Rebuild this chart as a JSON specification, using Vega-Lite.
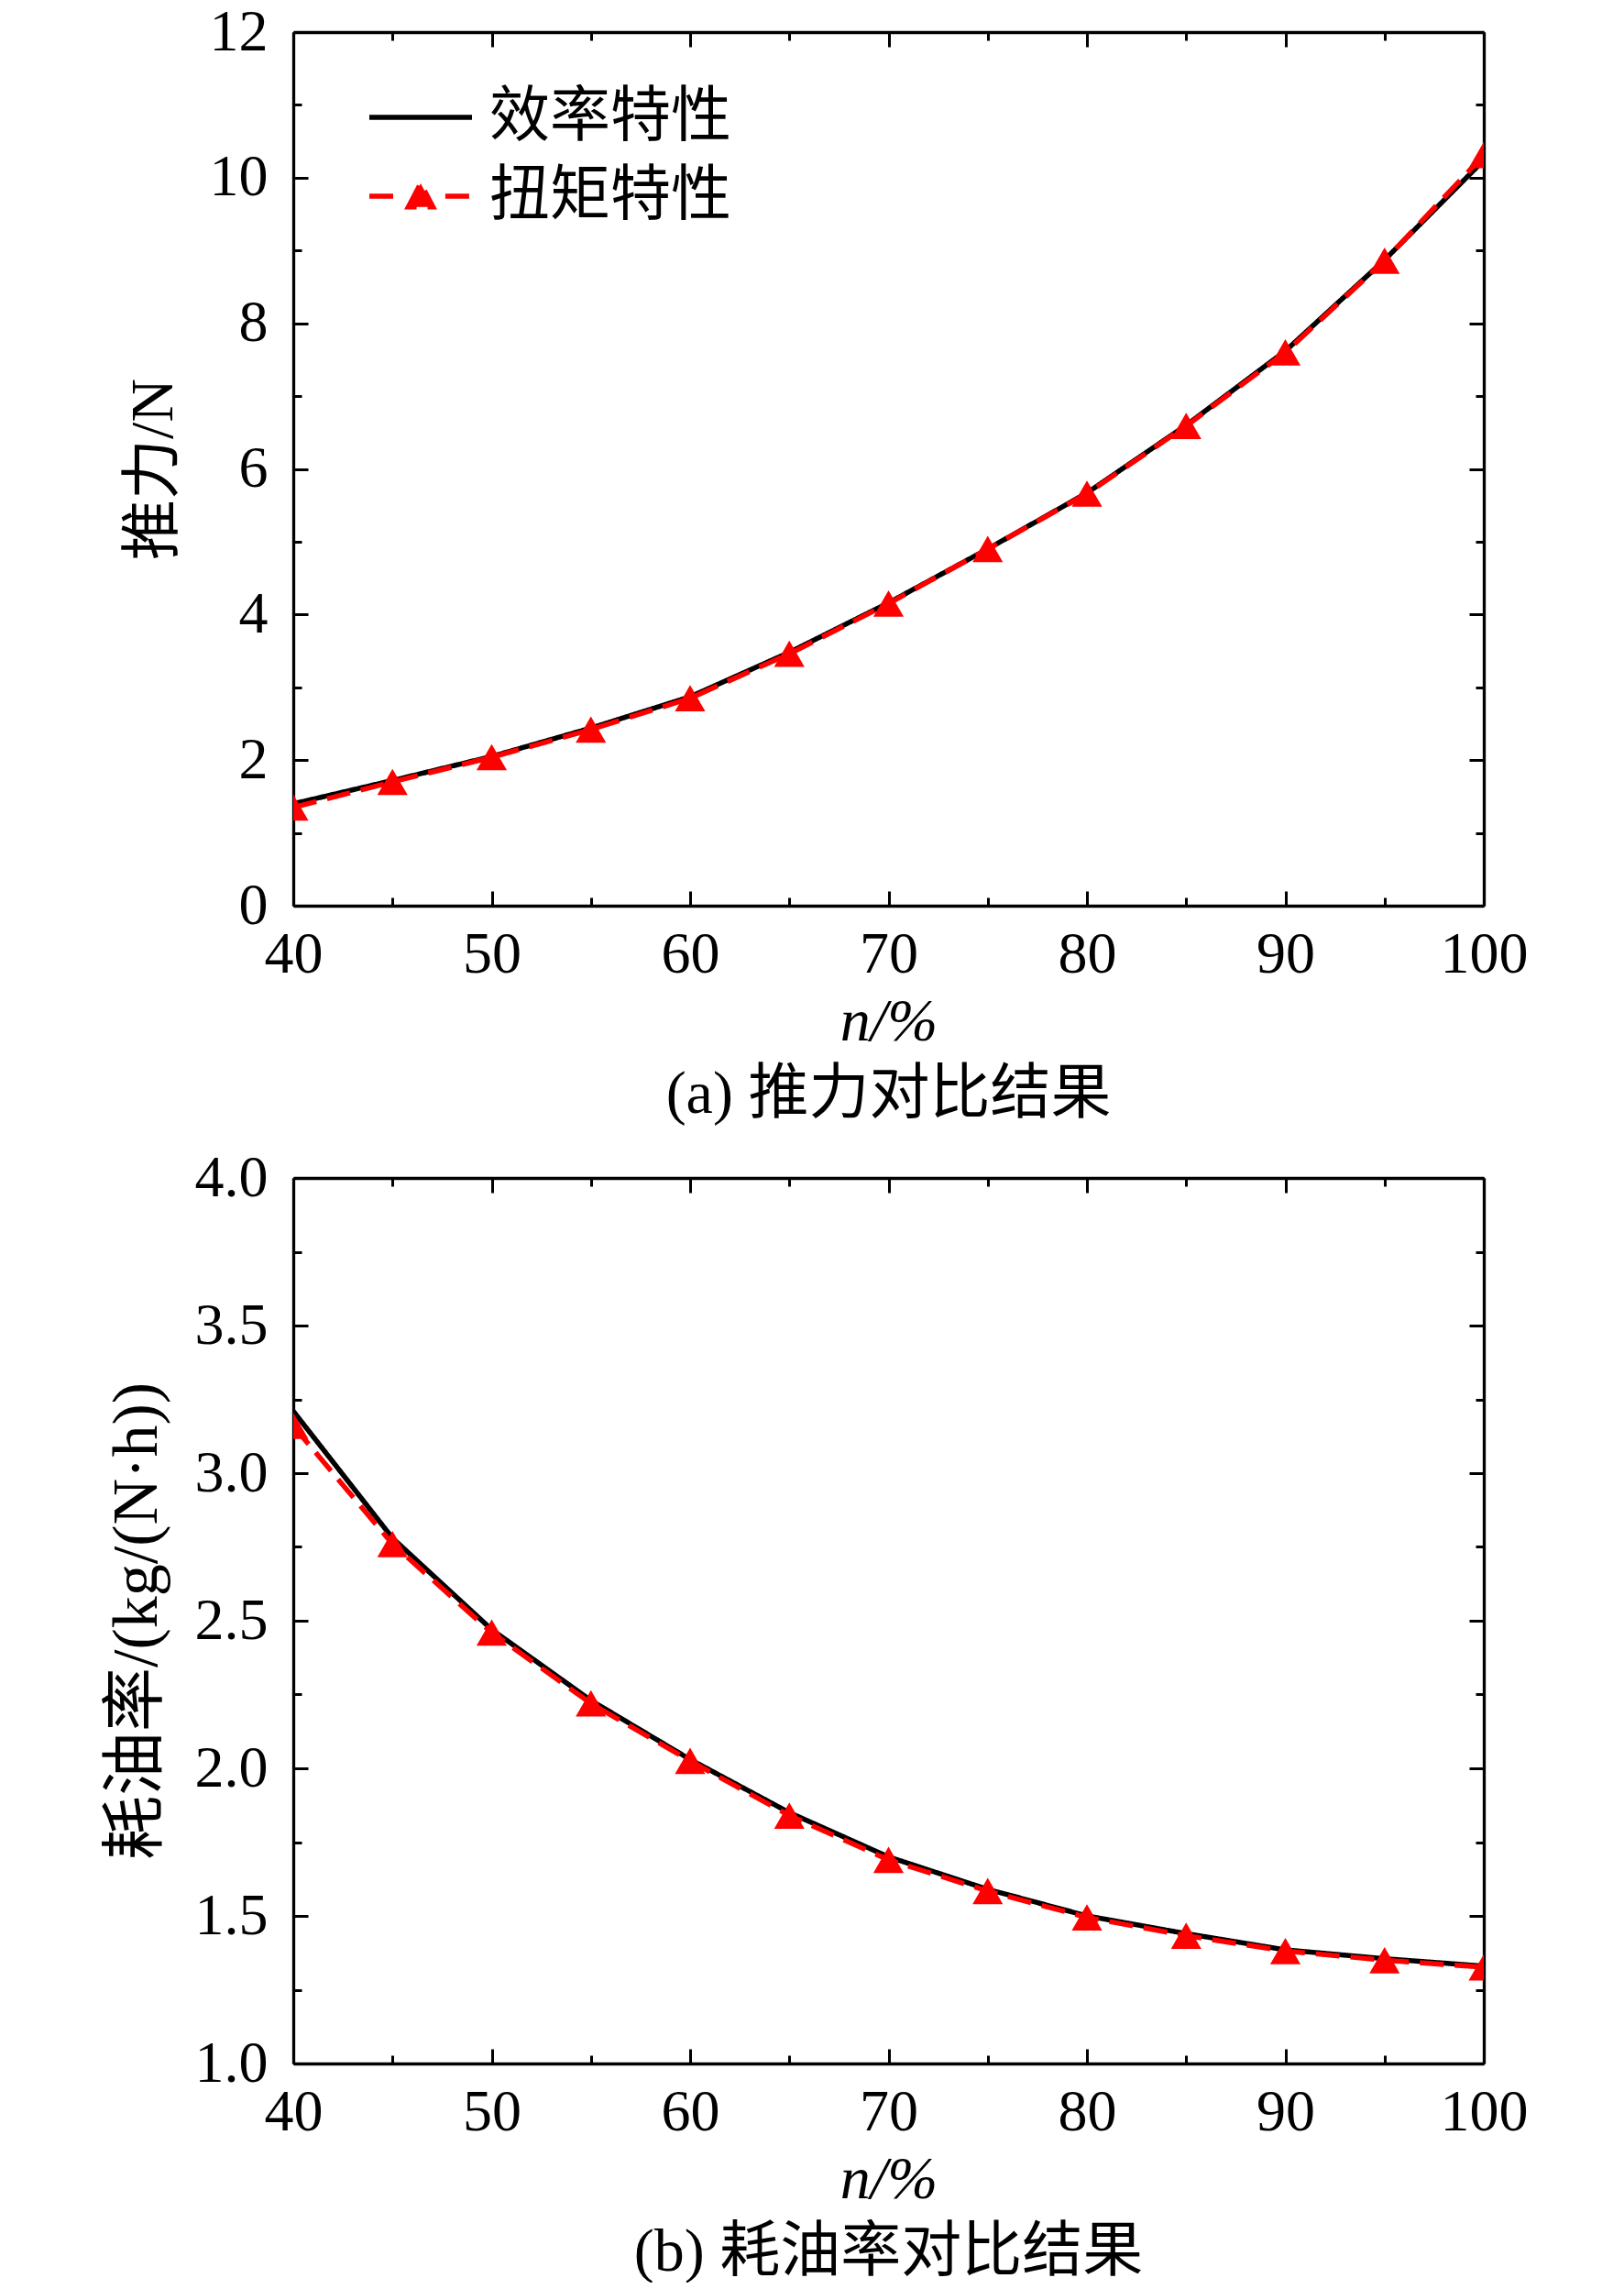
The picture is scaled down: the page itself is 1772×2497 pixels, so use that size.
{
  "$schema": "https://vega.github.io/schema/vega-lite/v6.json",
  "background": "white",
  "padding": {"left": 114, "top": 3, "right": 10, "bottom": 0},
  "spacing": 26,
  "config": {
    "view": {"stroke": null},
    "font": "Liberation Serif, Noto Sans CJK SC",
    "axis": {
      "labelFont": "Liberation Serif, Noto Sans CJK SC",
      "titleFont": "Liberation Serif, Noto Sans CJK SC",
      "labelFontSize": 64,
      "titleFontSize": 66,
      "titleFontWeight": "normal",
      "labelColor": "black",
      "titleColor": "black",
      "domainColor": "black",
      "domainWidth": 3.3,
      "tickColor": "black",
      "tickWidth": 3,
      "grid": false,
      "labelOverlap": false,
      "labelFlush": false,
      "labelBound": false
    },
    "legend": {
      "orient": "none",
      "legendX": 80,
      "legendY": 61,
      "padding": 0,
      "title": null,
      "labelFont": "Liberation Serif, Noto Sans CJK SC",
      "labelFontSize": 66,
      "labelColor": "black",
      "labelLimit": 0,
      "labelOffset": 16,
      "symbolSize": 12544,
      "symbolStrokeWidth": 5.5,
      "clipHeight": 64,
      "rowPadding": 20
    }
  },
  "datasets": {
    "thrust": [
      {"n": 40, "series": "效率特性", "v": 1.40},
      {"n": 45, "series": "效率特性", "v": 1.72},
      {"n": 50, "series": "效率特性", "v": 2.05},
      {"n": 55, "series": "效率特性", "v": 2.44},
      {"n": 60, "series": "效率特性", "v": 2.87},
      {"n": 65, "series": "效率特性", "v": 3.48},
      {"n": 70, "series": "效率特性", "v": 4.16},
      {"n": 75, "series": "效率特性", "v": 4.90},
      {"n": 80, "series": "效率特性", "v": 5.67},
      {"n": 85, "series": "效率特性", "v": 6.60},
      {"n": 90, "series": "效率特性", "v": 7.62},
      {"n": 95, "series": "效率特性", "v": 8.87},
      {"n": 100, "series": "效率特性", "v": 10.24},
      {"n": 40, "series": "扭矩特性", "v": 1.35},
      {"n": 45, "series": "扭矩特性", "v": 1.70},
      {"n": 50, "series": "扭矩特性", "v": 2.04},
      {"n": 55, "series": "扭矩特性", "v": 2.42},
      {"n": 60, "series": "扭矩特性", "v": 2.85},
      {"n": 65, "series": "扭矩特性", "v": 3.46},
      {"n": 70, "series": "扭矩特性", "v": 4.15},
      {"n": 75, "series": "扭矩特性", "v": 4.90},
      {"n": 80, "series": "扭矩特性", "v": 5.66},
      {"n": 85, "series": "扭矩特性", "v": 6.59},
      {"n": 90, "series": "扭矩特性", "v": 7.60},
      {"n": 95, "series": "扭矩特性", "v": 8.86},
      {"n": 100, "series": "扭矩特性", "v": 10.31}
    ],
    "sfc": [
      {"n": 40, "series": "效率特性", "v": 3.21},
      {"n": 45, "series": "效率特性", "v": 2.78},
      {"n": 50, "series": "效率特性", "v": 2.47},
      {"n": 55, "series": "效率特性", "v": 2.23},
      {"n": 60, "series": "效率特性", "v": 2.03},
      {"n": 65, "series": "效率特性", "v": 1.85},
      {"n": 70, "series": "效率特性", "v": 1.70},
      {"n": 75, "series": "效率特性", "v": 1.59},
      {"n": 80, "series": "效率特性", "v": 1.50},
      {"n": 85, "series": "效率特性", "v": 1.44},
      {"n": 90, "series": "效率特性", "v": 1.385},
      {"n": 95, "series": "效率特性", "v": 1.355},
      {"n": 100, "series": "效率特性", "v": 1.33},
      {"n": 40, "series": "扭矩特性", "v": 3.16},
      {"n": 45, "series": "扭矩特性", "v": 2.76},
      {"n": 50, "series": "扭矩特性", "v": 2.46},
      {"n": 55, "series": "扭矩特性", "v": 2.22},
      {"n": 60, "series": "扭矩特性", "v": 2.025},
      {"n": 65, "series": "扭矩特性", "v": 1.84},
      {"n": 70, "series": "扭矩特性", "v": 1.69},
      {"n": 75, "series": "扭矩特性", "v": 1.584},
      {"n": 80, "series": "扭矩特性", "v": 1.495},
      {"n": 85, "series": "扭矩特性", "v": 1.433},
      {"n": 90, "series": "扭矩特性", "v": 1.381},
      {"n": 95, "series": "扭矩特性", "v": 1.35},
      {"n": 100, "series": "扭矩特性", "v": 1.326}
    ]
  },
  "vconcat": [
    {
      "width": 1299,
      "height": 953,
      "data": {"name": "thrust"},
      "title": {"text": "(a) 推力对比结果", "orient": "bottom", "frame": "group", "anchor": "middle", "font": "Liberation Serif, Noto Sans CJK SC", "fontSize": 66, "fontWeight": "normal", "color": "black", "offset": 15},
      "layer": [
        {
          "mark": {"type": "line", "strokeWidth": 5.5, "clip": true},
          "encoding": {
            "x": {"field": "n", "type": "quantitative", "scale": {"domain": [40, 100], "nice": false, "zero": false},
              "axis": {"orient": "bottom", "values": [40,45,50,55,60,65,70,75,80,85,90,95,100], "labelExpr": "datum.value % 10 === 0 ? datum.label : ''", "tickSize": {"condition": {"test": "datum.value % 10 === 0", "value": -16}, "value": -9}, "labelPadding": 37, "title": "n/%", "titleFontStyle": "italic", "titlePadding": 2}},
            "y": {"field": "v", "type": "quantitative", "scale": {"domain": [0, 12], "nice": false, "zero": false},
              "axis": {"orient": "left", "values": [0,1,2,3,4,5,6,7,8,9,10,11,12], "labelExpr": "datum.value % 2 === 0 ? datum.label : ''", "tickSize": {"condition": {"test": "datum.value % 2 === 0", "value": -16}, "value": -9}, "labelPadding": 44, "title": "推力/N", "titlePadding": 27}},
            "color": {"field": "series", "type": "nominal", "scale": {"domain": ["效率特性", "扭矩特性"], "range": ["#000000", "#ff0000"]},
              "legend": {"encode": {"symbols": {"update": {"shape": {"signal": "datum.value === '扭矩特性' ? 'M-1,0H-0.48M0.48,0H0.96M-0.24,0.21L0,-0.25L0.24,0.21Z' : 'M-1,0H1'"}, "fill": {"signal": "datum.value === '扭矩特性' ? '#ff0000' : 'transparent'"}, "strokeDash": {"value": [1, 0]}}}}}},
            "strokeDash": {"field": "series", "type": "nominal", "scale": {"domain": ["效率特性", "扭矩特性"], "range": [[1, 0], [26, 12]]},
              "legend": {"encode": {"symbols": {"update": {"shape": {"signal": "datum.value === '扭矩特性' ? 'M-1,0H-0.48M0.48,0H0.96M-0.24,0.21L0,-0.25L0.24,0.21Z' : 'M-1,0H1'"}, "fill": {"signal": "datum.value === '扭矩特性' ? '#ff0000' : 'transparent'"}, "strokeDash": {"value": [1, 0]}}}}}}
          }
        },
        {
          "transform": [{"filter": "datum.series === '扭矩特性'"}],
          "mark": {"type": "point", "shape": "triangle-up", "filled": true, "color": "#ff0000", "size": 1100, "opacity": 1, "clip": true},
          "encoding": {
            "x": {"field": "n", "type": "quantitative",
              "axis": {"orient": "top", "values": [40,45,50,55,60,65,70,75,80,85,90,95,100], "labels": false, "tickSize": {"condition": {"test": "datum.value % 10 === 0", "value": -16}, "value": -9}, "title": null}},
            "y": {"field": "v", "type": "quantitative",
              "axis": {"orient": "right", "values": [0,1,2,3,4,5,6,7,8,9,10,11,12], "labels": false, "tickSize": {"condition": {"test": "datum.value % 2 === 0", "value": -16}, "value": -9}, "title": null}}
          }
        }
      ],
      "resolve": {"axis": {"x": "independent", "y": "independent"}}
    },
    {
      "width": 1299,
      "height": 966,
      "data": {"name": "sfc"},
      "title": {"text": "(b) 耗油率对比结果", "orient": "bottom", "frame": "group", "anchor": "middle", "font": "Liberation Serif, Noto Sans CJK SC", "fontSize": 66, "fontWeight": "normal", "color": "black", "offset": 15},
      "layer": [
        {
          "mark": {"type": "line", "strokeWidth": 5.5, "clip": true},
          "encoding": {
            "x": {"field": "n", "type": "quantitative", "scale": {"domain": [40, 100], "nice": false, "zero": false},
              "axis": {"orient": "bottom", "values": [40,45,50,55,60,65,70,75,80,85,90,95,100], "labelExpr": "datum.value % 10 === 0 ? datum.label : ''", "tickSize": {"condition": {"test": "datum.value % 10 === 0", "value": -16}, "value": -9}, "labelPadding": 37, "title": "n/%", "titleFontStyle": "italic", "titlePadding": 2}},
            "y": {"field": "v", "type": "quantitative", "scale": {"domain": [1, 4], "nice": false, "zero": false},
              "axis": {"orient": "left", "values": [1,1.25,1.5,1.75,2,2.25,2.5,2.75,3,3.25,3.5,3.75,4], "format": ".1f", "labelExpr": "datum.value % 0.5 === 0 ? datum.label : ''", "tickSize": {"condition": {"test": "datum.value % 0.5 === 0", "value": -16}, "value": -9}, "labelPadding": 44, "title": "耗油率/(kg/(N·h))", "titleFontSize": 70, "titlePadding": 27}},
            "color": {"field": "series", "type": "nominal", "scale": {"domain": ["效率特性", "扭矩特性"], "range": ["#000000", "#ff0000"]},
              "legend": {"encode": {"symbols": {"update": {"shape": {"signal": "datum.value === '扭矩特性' ? 'M-1,0H-0.48M0.48,0H0.96M-0.24,0.21L0,-0.25L0.24,0.21Z' : 'M-1,0H1'"}, "fill": {"signal": "datum.value === '扭矩特性' ? '#ff0000' : 'transparent'"}, "strokeDash": {"value": [1, 0]}}}}}},
            "strokeDash": {"field": "series", "type": "nominal", "scale": {"domain": ["效率特性", "扭矩特性"], "range": [[1, 0], [26, 12]]},
              "legend": {"encode": {"symbols": {"update": {"shape": {"signal": "datum.value === '扭矩特性' ? 'M-1,0H-0.48M0.48,0H0.96M-0.24,0.21L0,-0.25L0.24,0.21Z' : 'M-1,0H1'"}, "fill": {"signal": "datum.value === '扭矩特性' ? '#ff0000' : 'transparent'"}, "strokeDash": {"value": [1, 0]}}}}}}
          }
        },
        {
          "transform": [{"filter": "datum.series === '扭矩特性'"}],
          "mark": {"type": "point", "shape": "triangle-up", "filled": true, "color": "#ff0000", "size": 1100, "opacity": 1, "clip": true},
          "encoding": {
            "x": {"field": "n", "type": "quantitative",
              "axis": {"orient": "top", "values": [40,45,50,55,60,65,70,75,80,85,90,95,100], "labels": false, "tickSize": {"condition": {"test": "datum.value % 10 === 0", "value": -16}, "value": -9}, "title": null}},
            "y": {"field": "v", "type": "quantitative",
              "axis": {"orient": "right", "values": [1,1.25,1.5,1.75,2,2.25,2.5,2.75,3,3.25,3.5,3.75,4], "labels": false, "tickSize": {"condition": {"test": "datum.value % 0.5 === 0", "value": -16}, "value": -9}, "title": null}}
          }
        }
      ],
      "resolve": {"axis": {"x": "independent", "y": "independent"}}
    }
  ]
}
